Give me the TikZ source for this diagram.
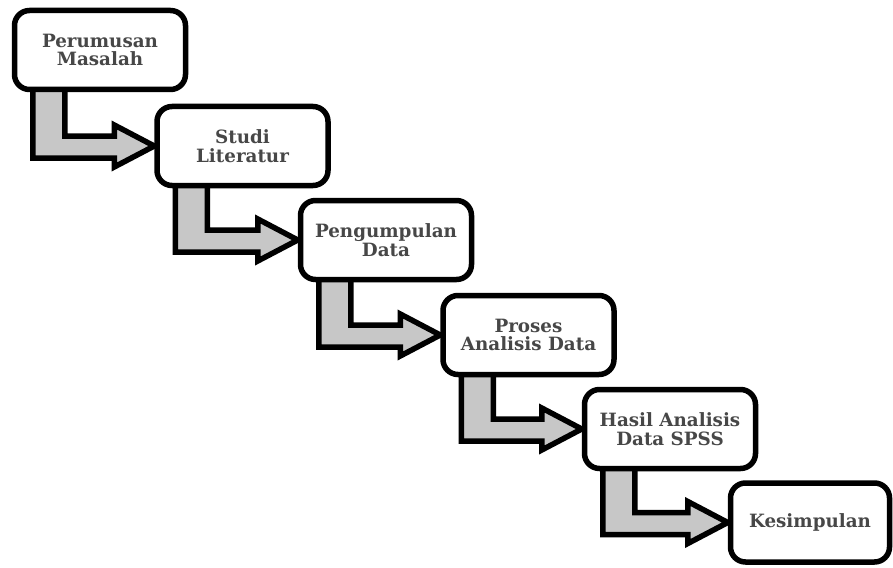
\documentclass[tikz,border=0pt]{standalone}
\usepackage{fontspec}
\setmainfont{DejaVu Serif}
\usetikzlibrary{calc}
\pgfdeclarelayer{bg}
\pgfsetlayers{bg,main}
\begin{document}
\begin{tikzpicture}[x=1pt,y=-1pt,
  stepbox/.style={draw=black, line width=5.5pt, rounded corners=15pt, fill=white,
    align=center, font=\bfseries\fontsize{18.3}{18.5}\selectfont, text=black!72,
    inner sep=0pt, minimum width=171pt, minimum height=79pt},
  bentarrow/.style={draw=black, line width=5.5pt, fill=black!22, line join=miter}]
\useasboundingbox (0,0) rectangle (893,567);
\node[stepbox] (b1) at (100,50) {Perumusan\\Masalah};
\node[stepbox] (b2) at (242.5,146) {Studi\\Literatur};
\node[stepbox] (b3) at (386,240) {Pengumpulan\\Data};
\node[stepbox] (b4) at (528.5,335) {Proses\\Analisis Data};
\node[stepbox] (b5) at (670,429) {Hasil Analisis\\Data SPSS};
\node[stepbox, minimum width=159pt] (b6) at (810,522.5) {Kesimpulan};
\begin{pgfonlayer}{bg}
\foreach \i/\j in {1/2,2/3,3/4,4/5,5/6}{
  \draw[bentarrow] let \p1=(b\i.south west), \p2=(b\j.west) in
    (\x1+21pt,\y1+5pt) -- (\x1+21pt,\y2-12pt) -- (\x2-40pt,\y2-12pt)
    -- (\x2-40pt,\y2-21pt) -- (\x2,\y2) -- (\x2-40pt,\y2+21pt)
    -- (\x2-40pt,\y2+10pt) -- (\x1+53pt,\y2+10pt) -- (\x1+53pt,\y1+5pt) -- cycle;
}
\end{pgfonlayer}
\end{tikzpicture}
\end{document}
